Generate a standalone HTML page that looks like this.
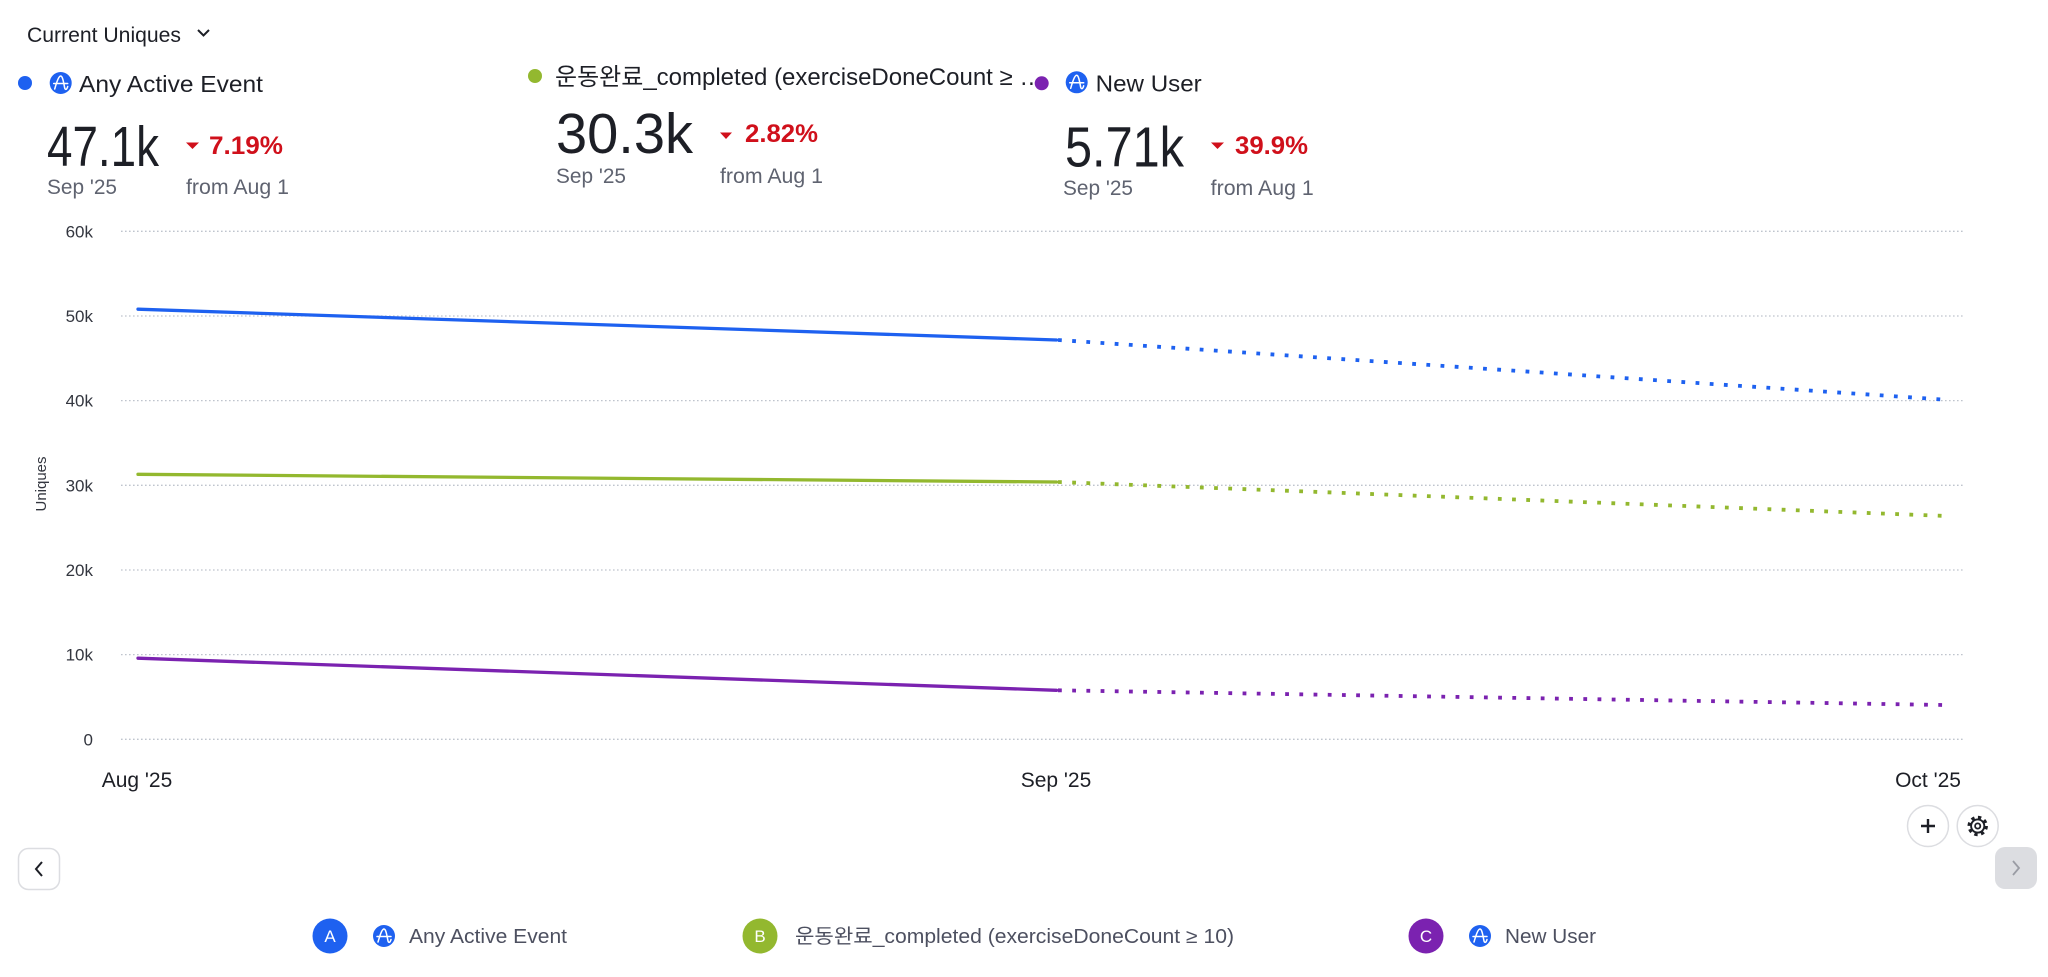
<!DOCTYPE html>
<html><head><meta charset="utf-8">
<style>
html,body{margin:0;padding:0;background:#fff;}
svg{display:block;}
text{font-family:"Liberation Sans","Noto Sans CJK KR",sans-serif;}
</style></head>
<body>
<svg width="2048" height="977" viewBox="0 0 2048 977" xmlns="http://www.w3.org/2000/svg">
<defs>
  <g id="amp">
    <circle r="11" fill="#1e61f0"/>
    <path d="M-7,0.5 H7 M-6,6 C-4,-1 -2,-7 0,-7 C2,-7 3,0 4,5 C4.6,7 6,7 7,3.5" stroke="#fff" stroke-width="1.5" fill="none" stroke-linecap="round"/>
  </g>
  <clipPath id="gclip"><rect x="540" y="50" width="494" height="50"/></clipPath>
</defs>

<!-- Header -->
<text x="27" y="42" font-size="21" fill="#1d1f26" textLength="154" lengthAdjust="spacingAndGlyphs">Current Uniques</text>
<path d="M198,30 L203.5,35.5 L209,30" stroke="#1d1f26" stroke-width="2" fill="none"/>

<!-- Column A -->
<circle cx="25" cy="83" r="7" fill="#1e61f0"/>
<use href="#amp" x="60.7" y="83"/>
<text x="79" y="92" font-size="23" fill="#1d1f26" textLength="184" lengthAdjust="spacingAndGlyphs">Any Active Event</text>
<text x="47" y="166" font-size="57" fill="#1d1f26" textLength="112" lengthAdjust="spacingAndGlyphs">47.1k</text>
<path d="M186,142.5 L199,142.5 L192.5,149 Z" fill="#d0101b"/>
<text x="209" y="154" font-size="25" font-weight="bold" fill="#d0101b" textLength="74" lengthAdjust="spacingAndGlyphs">7.19%</text>
<text x="47" y="194" font-size="21" fill="#5f6370" textLength="70" lengthAdjust="spacingAndGlyphs">Sep '25</text>
<text x="186" y="194" font-size="21" fill="#5f6370" textLength="103" lengthAdjust="spacingAndGlyphs">from Aug 1</text>

<!-- Column B -->
<circle cx="535" cy="76" r="7" fill="#93b82f"/>
<text x="555" y="85" font-size="24" fill="#1d1f26" clip-path="url(#gclip)">운동완료_completed (exerciseDoneCount ≥ …</text>
<text x="556" y="153" font-size="57" fill="#1d1f26" textLength="137" lengthAdjust="spacingAndGlyphs">30.3k</text>
<path d="M720,132.5 L732,132.5 L726,139 Z" fill="#d0101b"/>
<text x="745" y="142" font-size="25" font-weight="bold" fill="#d0101b" textLength="73" lengthAdjust="spacingAndGlyphs">2.82%</text>
<text x="556" y="183" font-size="21" fill="#5f6370" textLength="70" lengthAdjust="spacingAndGlyphs">Sep '25</text>
<text x="720" y="183" font-size="21" fill="#5f6370" textLength="103" lengthAdjust="spacingAndGlyphs">from Aug 1</text>

<!-- Column C -->
<circle cx="1041.7" cy="83.3" r="7" fill="#7b22b0"/>
<use href="#amp" x="1076.7" y="82.3"/>
<text x="1095.7" y="91.7" font-size="23" fill="#1d1f26" textLength="106" lengthAdjust="spacingAndGlyphs">New User</text>
<text x="1065" y="166.7" font-size="57" fill="#1d1f26" textLength="119" lengthAdjust="spacingAndGlyphs">5.71k</text>
<path d="M1211,142.5 L1224,142.5 L1217.5,149 Z" fill="#d0101b"/>
<text x="1235" y="154" font-size="25" font-weight="bold" fill="#d0101b" textLength="73" lengthAdjust="spacingAndGlyphs">39.9%</text>
<text x="1063" y="195" font-size="21" fill="#5f6370" textLength="70" lengthAdjust="spacingAndGlyphs">Sep '25</text>
<text x="1210.7" y="195" font-size="21" fill="#5f6370" textLength="103" lengthAdjust="spacingAndGlyphs">from Aug 1</text>

<!-- Gridlines -->
<g stroke="#bfc4cd" stroke-width="1.3" stroke-dasharray="1.6 2.4">
  <line x1="121" y1="231.3" x2="1963" y2="231.3"/>
  <line x1="121" y1="316" x2="1963" y2="316"/>
  <line x1="121" y1="400.6" x2="1963" y2="400.6"/>
  <line x1="121" y1="485.3" x2="1963" y2="485.3"/>
  <line x1="121" y1="570" x2="1963" y2="570"/>
  <line x1="121" y1="654.6" x2="1963" y2="654.6"/>
  <line x1="121" y1="739.3" x2="1963" y2="739.3"/>
</g>

<!-- Y labels -->
<g font-size="17" fill="#33363f" text-anchor="end">
  <text x="93" y="237.3">60k</text>
  <text x="93" y="322">50k</text>
  <text x="93" y="406.6">40k</text>
  <text x="93" y="491.3">30k</text>
  <text x="93" y="576">20k</text>
  <text x="93" y="660.6">10k</text>
  <text x="93" y="745.3">0</text>
</g>
<text transform="translate(46,484) rotate(-90)" font-size="15" fill="#33363f" text-anchor="middle">Uniques</text>

<!-- X labels -->
<g font-size="21" fill="#1d1f26" text-anchor="middle">
  <text x="137" y="787">Aug '25</text>
  <text x="1056" y="787">Sep '25</text>
  <text x="1928" y="787">Oct '25</text>
</g>

<!-- Series -->
<g fill="none" stroke-linecap="round">
  <line x1="138" y1="309.2" x2="1056.5" y2="340" stroke="#1e61f0" stroke-width="3.3"/>
  <line x1="138" y1="474.3" x2="1056.5" y2="482" stroke="#93b82f" stroke-width="3.3"/>
  <line x1="138" y1="658.2" x2="1056.5" y2="690.3" stroke="#7b22b0" stroke-width="3.3"/>
</g>
<g fill="none" stroke-width="3.8" stroke-dasharray="3.8 10.4">
  <line x1="1058" y1="340" x2="1944" y2="399.6" stroke="#1e61f0"/>
  <line x1="1058" y1="482" x2="1944" y2="515.9" stroke="#93b82f"/>
  <line x1="1058" y1="690.3" x2="1944" y2="705" stroke="#7b22b0"/>
</g>

<!-- Buttons -->
<circle cx="1928" cy="826" r="20.5" fill="#fff" stroke="#dcdde1" stroke-width="1.5"/>
<path d="M1921,826 H1935 M1928,819 V833" stroke="#1d1f26" stroke-width="2.4"/>
<circle cx="1977.7" cy="826" r="20.5" fill="#fff" stroke="#dcdde1" stroke-width="1.5"/>
<g transform="translate(1977.7,826)" fill="none" stroke="#1d1f26">
  <circle r="8.6" stroke-width="3.2" stroke-dasharray="3.3 3.45"/>
  <circle r="6.6" stroke-width="1.9"/>
  <circle r="2.6" stroke-width="1.8"/>
</g>
<rect x="1995" y="847" width="42" height="42" rx="10" fill="#dcdde1"/>
<path d="M2013,861 L2019,868 L2013,875" stroke="#9a9ca4" stroke-width="1.8" fill="none"/>
<rect x="18.5" y="848.5" width="41" height="41" rx="10" fill="#fff" stroke="#dcdde1" stroke-width="1.5"/>
<path d="M42,862 L36,869 L42,876" stroke="#1d1f26" stroke-width="2" fill="none"/>

<!-- Legend -->
<circle cx="330" cy="936" r="17.5" fill="#1e61f0"/>
<text x="330" y="942" font-size="17" fill="#fff" text-anchor="middle">A</text>
<use href="#amp" x="384" y="936"/>
<text x="409" y="943" font-size="20" fill="#4d5060" textLength="158" lengthAdjust="spacingAndGlyphs">Any Active Event</text>

<circle cx="760" cy="936" r="17.5" fill="#93b82f"/>
<text x="760" y="942" font-size="17" fill="#fff" text-anchor="middle">B</text>
<text x="795" y="943" font-size="20" fill="#4d5060" textLength="439" lengthAdjust="spacingAndGlyphs">운동완료_completed (exerciseDoneCount ≥ 10)</text>

<circle cx="1426" cy="936" r="17.5" fill="#7b22b0"/>
<text x="1426" y="942" font-size="17" fill="#fff" text-anchor="middle">C</text>
<use href="#amp" x="1480" y="936"/>
<text x="1505" y="943" font-size="20" fill="#4d5060" textLength="91" lengthAdjust="spacingAndGlyphs">New User</text>
</svg>
</body></html>
